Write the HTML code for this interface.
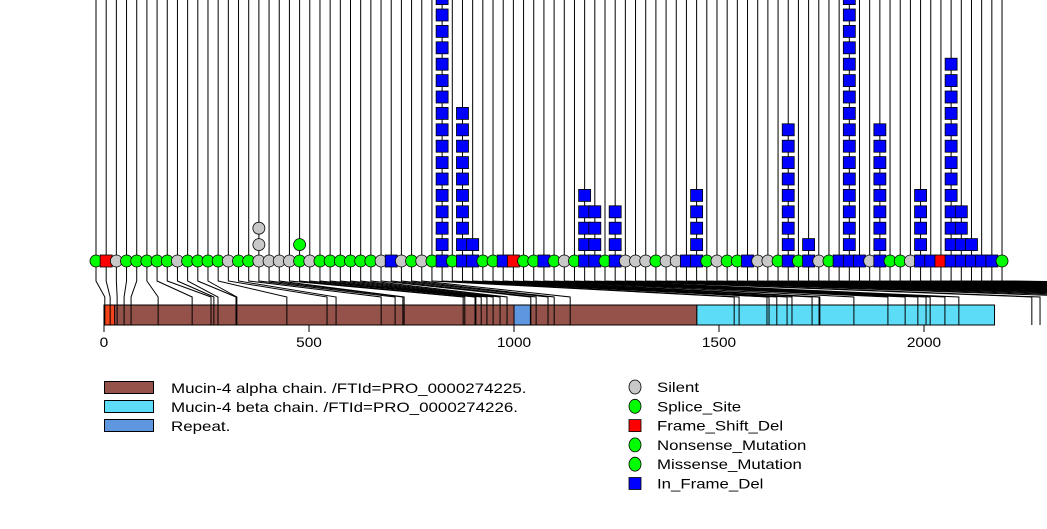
<!DOCTYPE html>
<html><head><meta charset="utf-8"><style>
body{margin:0;background:#fff;width:1047px;height:524px;overflow:hidden}
svg text{font-family:"Liberation Sans",sans-serif;font-size:14px}
</style></head><body>
<svg id="chart" width="1047" height="524" xmlns="http://www.w3.org/2000/svg"></svg>
<script>
// marker types in display order: S=Silent, G=Splice/Nonsense/Missense (green), R=Frame_Shift_Del, B=In_Frame_Del
const types = ["G","R","S","G","G","G","G","G","S","G","G","G","G","S","G","G","S","S","S","S","G","S","G","G","G","G","G","G","S","B","S","G","S","G","B","G","B","B","G","G","B","R","G","G","B","G","S","G","B","B","G","B","S","S","S","G","S","S","B","B","G","S","G","G","B","S","S","G","B","G","B","S","G","B","B","B","S","B","G","G","S","B","B","R","B","B","B","B","B","G"];
// counts (total mutations at each marker)
const counts = [1,1,1,1,1,1,1,1,1,1,1,1,1,1,1,1,3,1,1,1,2,1,1,1,1,1,1,1,1,1,1,1,1,1,17,1,10,2,1,1,1,1,1,1,1,1,1,1,5,4,1,4,1,1,1,1,1,1,1,5,1,1,1,1,1,1,1,1,9,1,2,1,1,1,17,1,1,9,1,1,1,5,1,1,13,4,2,1,1,1];
// amino-acid positions for each marker
const positions = [2,15,32,49,66,132,215,261,268,278,322,324,446,544,566,676,710,729,732,876,880,905,907,920,934,949,966,983,1041,1054,1083,1098,1137,1537,1549,1617,1622,1641,1666,1678,1727,1744,1746,1829,1912,1954,1985,2005,2015,2051,2085,2263,2283,2420,2510,2600,2690,2780,2870,2960,3050,3140,3230,3320,3410,3500,3590,3680,3770,3860,3950,4040,4130,4220,4310,4400,4490,4580,4670,4760,4850,4940,5030,5100,5170,5230,5290,5340,5380,5410];
const domainNames = ["Mucin-4 alpha chain","Mucin-4 beta chain","Repeat","Signal"];
const domainStart = [0,1446,1000,0];
const domainEnd = [1446,2172,1040,26];
const axisTicks = [0,500,1000,1500,2000];

const svg = document.getElementById('chart');
const NS = "http://www.w3.org/2000/svg";
const X = aa => 104 + aa*0.41;
const mx = i => 96 + i*10.18;
const MY = 261, STEP = 16.4;
const fill = {S:"#c8c8c8",G:"#00ff00",R:"#ff0000",B:"#0000ff"};
function mk(tag, attrs){const e=document.createElementNS(NS,tag);for(const k in attrs)e.setAttribute(k,attrs[k]);svg.appendChild(e);return e;}
function squeeze(t,f){const w=t.getComputedTextLength();t.setAttribute('textLength',(w*f).toFixed(1));t.setAttribute('lengthAdjust','spacingAndGlyphs');}

types.forEach((t,i)=>{
  const l = mk('line',{x1:mx(i),y1:0,x2:mx(i),y2:MY,stroke:"#000","stroke-width":1});
  
  
});
types.forEach((t,i)=>{
  const p = mk('polyline',{points:`${mx(i)},${MY} ${mx(i)},281 ${X(positions[i])},297 ${X(positions[i])},305`,fill:"none",stroke:"#000","stroke-width":1});
  
  
});
const dcol = ["#94524a","#5ddcf8","#5e96e0","#f5441c"];
[0,1,2,3].forEach(d=>{
  const r = mk('rect',{x:X(domainStart[d]),y:305,width:X(domainEnd[d])-X(domainStart[d]),height:20,fill:dcol[d],stroke:"#000","stroke-width":1});
  
  
});
positions.forEach(p=>{
  const l = mk('line',{x1:X(p),y1:305,x2:X(p),y2:325,stroke:"#000","stroke-width":1});
  
  
});
axisTicks.forEach(v=>{
  const l = mk('line',{x1:X(v),y1:325,x2:X(v),y2:332,stroke:"#000"});
  
  
  const t = mk('text',{x:X(v),y:347,"text-anchor":"middle"});
  t.textContent = v;
  
  
  squeeze(t,1.1);
});
function shape(t,x,y){
  if(t==="S"||t==="G") return mk('circle',{cx:x,cy:y,r:6,fill:fill[t],stroke:"#000","stroke-width":0.8});
  return mk('rect',{x:x-6,y:y-6,width:12,height:12,fill:fill[t],stroke:"#000","stroke-width":0.8});
}
types.forEach((t,i)=>{
  for(let k=counts[i]-1;k>=0;k--){
    const e = shape(t,mx(i),MY-k*STEP);
    
    
  }
});
const legDom = [["#94524a","Mucin-4 alpha chain. /FTId=PRO_0000274225."],["#5ddcf8","Mucin-4 beta chain. /FTId=PRO_0000274226."],["#5e96e0","Repeat."]];
legDom.forEach((d,j)=>{
  const r = mk('rect',{x:104.5,y:381.5+j*19,width:49,height:12,fill:d[0],stroke:"#000"});
  
  
  const t = mk('text',{x:171,y:393+j*19});
  t.textContent = d[1];
  
  
  squeeze(t,1.21);
});
const legMut = [["S","Silent"],["G","Splice_Site"],["R","Frame_Shift_Del"],["G","Nonsense_Mutation"],["G","Missense_Mutation"],["B","In_Frame_Del"]];
legMut.forEach((m,j)=>{
  const y = 387+j*19.3;
  let e;
  if(m[0]==="S"||m[0]==="G") e = mk('ellipse',{cx:635,cy:y,rx:6,ry:7,fill:fill[m[0]],stroke:"#000","stroke-width":0.8});
  else e = mk('rect',{x:629,y:y-6,width:12,height:12,fill:fill[m[0]],stroke:"#000","stroke-width":0.8});
  
  
  const t = mk('text',{x:657,y:y+5});
  t.textContent = m[1];
  
  
  squeeze(t,1.2);
});
</script>
</body></html>
